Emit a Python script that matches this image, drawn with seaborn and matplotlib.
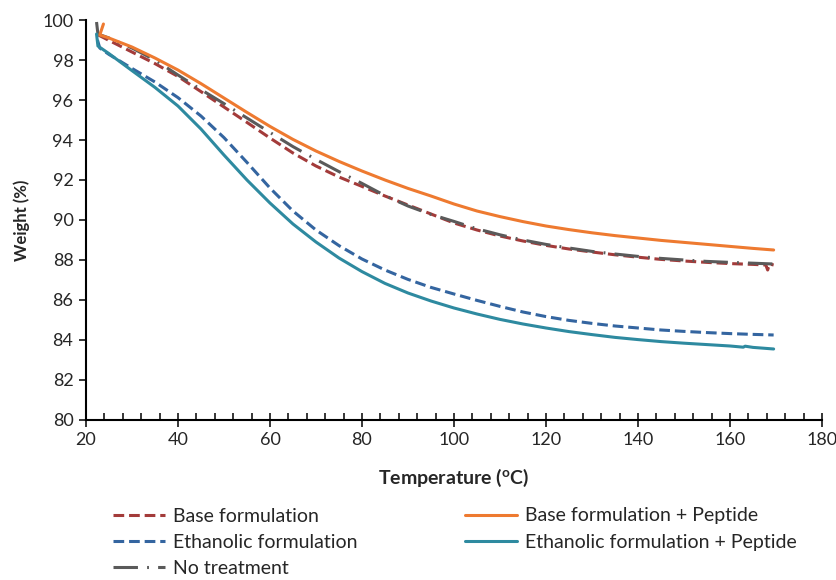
import numpy as np
import pandas as pd
import matplotlib
matplotlib.use("Agg")
import matplotlib.pyplot as plt
from matplotlib.ticker import MultipleLocator
import seaborn as sns

# readings (temperature in C, weight in %)
base_t = [22.7, 25, 30, 35, 40, 45, 50, 55, 60, 65, 70, 75, 80, 85, 90, 95, 100,
          105, 110, 115, 120, 125, 130, 135, 140, 145, 150, 155, 160, 165,
          167.8, 168.2, 168.6, 169.5]
base_w = [99.25, 98.98, 98.4, 97.82, 97.18, 96.42, 95.65, 94.88, 94.1, 93.35,
          92.7, 92.15, 91.68, 91.2, 90.75, 90.3, 89.85, 89.5, 89.2, 88.95, 88.73,
          88.55, 88.4, 88.26, 88.14, 88.03, 87.95, 87.88, 87.82, 87.78,
          87.75, 87.5, 87.8, 87.75]

eth_t = [22.5, 23, 25, 30, 35, 40, 45, 50, 55, 60, 65, 70, 75, 80, 85, 90, 95,
         100, 105, 110, 115, 120, 125, 130, 135, 140, 145, 150, 155, 160, 165, 169.5]
eth_w = [99.0, 98.6, 98.28, 97.58, 96.9, 96.12, 95.2, 94.12, 92.88, 91.6, 90.45,
         89.5, 88.72, 88.05, 87.5, 87.03, 86.63, 86.3, 85.98, 85.68, 85.4, 85.17,
         84.98, 84.83, 84.7, 84.6, 84.5, 84.43, 84.37, 84.32, 84.28, 84.25]

none_t = [22.3, 22.6, 25, 30, 35, 40, 45, 50, 55, 60, 65, 70, 75, 80, 85, 90, 95,
          100, 105, 110, 115, 120, 125, 130, 135, 140, 145, 150, 155, 160, 165, 169.5]
none_w = [99.9, 99.3, 99.1, 98.6, 98.0, 97.25, 96.52, 95.82, 95.1, 94.38, 93.67,
          93.03, 92.42, 91.83, 91.22, 90.7, 90.28, 89.93, 89.56, 89.26, 89.0,
          88.78, 88.6, 88.43, 88.3, 88.18, 88.08, 88.0, 87.93, 87.88, 87.84, 87.8]

basep_t = [23.8, 23.0, 25, 30, 35, 40, 45, 50, 55, 60, 65, 70, 75, 80, 85, 90, 95,
           100, 105, 110, 115, 120, 125, 130, 135, 140, 145, 150, 155, 160, 165, 169.5]
basep_w = [99.8, 99.25, 99.1, 98.65, 98.1, 97.5, 96.82, 96.1, 95.38, 94.68,
           94.03, 93.45, 92.93, 92.45, 92.0, 91.58, 91.2, 90.8, 90.45, 90.17,
           89.92, 89.7, 89.52, 89.36, 89.22, 89.1, 88.98, 88.88, 88.78, 88.68,
           88.58, 88.5]

ethp_t = [22.3, 22.6, 25, 30, 35, 40, 45, 50, 55, 60, 65, 70, 75, 80, 85, 90, 95,
          100, 105, 110, 115, 120, 125, 130, 135, 140, 145, 150, 155, 160,
          162.9, 163.3, 165, 169.5]
ethp_w = [99.3, 98.7, 98.32, 97.47, 96.63, 95.7, 94.55, 93.25, 92.0, 90.85, 89.8,
          88.9, 88.1, 87.42, 86.83, 86.35, 85.95, 85.6, 85.3, 85.03, 84.8, 84.6,
          84.42, 84.27, 84.13, 84.02, 83.92, 83.84, 83.77, 83.7,
          83.64, 83.69, 83.63, 83.55]

sns.set_style("white")
plt.rcParams["font.family"] = ["Lato", "DejaVu Sans"]
plt.rcParams["mathtext.fontset"] = "custom"
plt.rcParams["mathtext.rm"] = "Lato"
plt.rcParams["mathtext.bf"] = "Lato:bold"

fig = plt.figure(figsize=(8.37, 5.8), dpi=100)
ax = fig.add_axes([0.1027, 0.2759, 0.8793, 0.6896])

lw = 2.2
series = [
    ("Base formulation", base_t, base_w, "#A33B3A", (3.5, 1.6)),
    ("Ethanolic formulation", eth_t, eth_w, "#3465A0", (3.5, 1.6)),
    ("No treatment", none_t, none_w, "#5A5A5A", (8, 3, 0.6, 3)),
    ("Base formulation + Peptide", basep_t, basep_w, "#EE7A30", None),
    ("Ethanolic formulation + Peptide", ethp_t, ethp_w, "#2E8AA0", None),
]

for name, t, w, color, dash in series:
    df = pd.DataFrame({"t": t, "w": w})
    sns.lineplot(data=df, x="t", y="w", sort=False, estimator=None,
                 color=color, linewidth=lw, label=name, ax=ax)
    line = ax.get_lines()[-1]
    if dash is not None:
        line.set_dashes(dash)

ax.set_xlim(20, 180)
ax.set_ylim(80, 100)
ax.xaxis.set_major_locator(MultipleLocator(20))
ax.xaxis.set_minor_locator(MultipleLocator(4))
ax.yaxis.set_major_locator(MultipleLocator(2))

for s in ["top", "right"]:
    ax.spines[s].set_visible(False)
for s in ["left", "bottom"]:
    ax.spines[s].set_color("black")
    ax.spines[s].set_linewidth(1.5)

ax.tick_params(axis="x", which="major", direction="inout", length=10, width=1.3,
               labelsize=13, pad=4, bottom=True)
ax.tick_params(axis="x", which="minor", direction="in", length=5, width=1.3, bottom=True)
ax.tick_params(axis="y", which="major", direction="out", length=5, width=1.3,
               labelsize=13, pad=4, left=True)

ax.set_xlabel(r"Temperature ($\mathbf{^{o}}$C)", fontsize=14, fontweight="bold", labelpad=13)
ax.set_ylabel("Weight (%)", fontsize=12, fontweight="bold", labelpad=9)

ax.get_legend().remove()
handles, labels = ax.get_legend_handles_labels()
fig.legend(handles, labels, ncol=2, loc="upper left",
           bbox_to_anchor=(0.135, 0.125), frameon=False, fontsize=14,
           handlelength=2.7, handletextpad=0.4, columnspacing=5.5,
           labelspacing=0.47, borderaxespad=0, borderpad=0)

fig.savefig("out.png", dpi=100)
